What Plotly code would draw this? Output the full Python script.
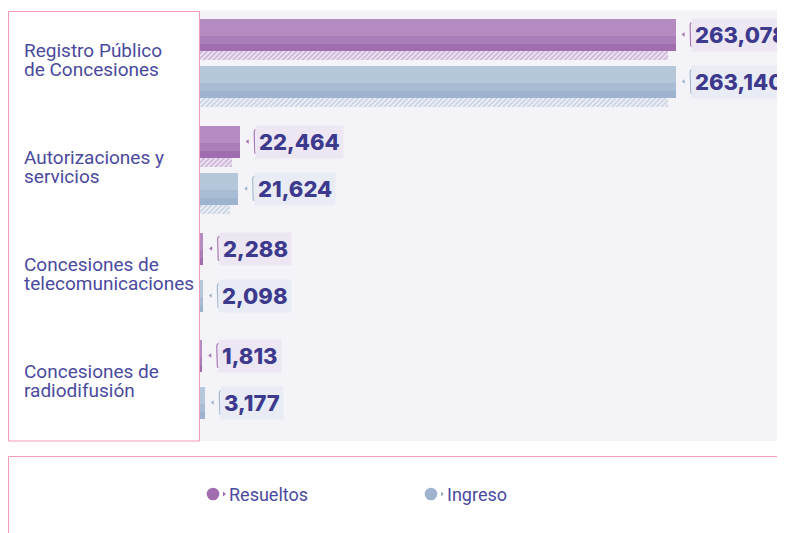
import plotly.graph_objects as go

# ---------------- data ----------------
categories = ["Registro Público<br>de Concesiones",
              "Autorizaciones y<br>servicios",
              "Concesiones de<br>telecomunicaciones",
              "Concesiones de<br>radiodifusión"]
resueltos = [263078, 22464, 2288, 1813]
ingreso = [263140, 21624, 2098, 3177]
series_names = ["Resueltos", "Ingreso"]

# ---------------- layout constants (screen pixels; page has 8px body margin) ----------------
OFF = 8
W, H = 777, 525
PL, PT, PB = 199 - OFF, 10 - OFF, 441 - OFF
PR = W
PW, PH = PR - PL, PB - PT
UPX = 552.0                # data units per pixel (x)
XMAX = PW * UPX
GROUP_PX = 107             # pixels between groups
FIRST = 58 - OFF           # pixel centre of first group


def yu(px):                # pixel offset -> y units
    return px / GROUP_PX


def xu(px):                # pixel offset -> x units
    return px * UPX


def pxx(p):                # screen pixel -> paper x
    return (p - OFF - PL) / PW


def pxy(p):                # screen pixel -> paper y
    return (PB - (p - OFF)) / PH


styles = {
    "Resueltos": dict(off=-23.5, light="#b58cc1", mid="#aa7eb9", dark="#a06daf",
                      hatch="#a877b8", box="#ece7f2", bracket="#a877b6"),
    "Ingreso": dict(off=23.5, light="#b4c7db", mid="#a8bcd3", dark="#9eb3cd",
                    hatch="#a2b8d2", box="#e9ecf5", bracket="#a5b9d1"),
}
TEXT_COLOR = "#3d3a8e"
LABEL_COLOR = "#4a4a9e"
PINK = "#f29cb4"

fig = go.Figure()
annotations = []
shapes = []

BAR_T = 32
layers = [(0, 32, "light"), (17, 15, "mid"), (25, 7, "dark")]

for name, vals in zip(series_names, [resueltos, ingreso]):
    st = styles[name]
    idx = list(range(len(vals)))
    centres = [i + yu(st["off"]) for i in idx]
    # hatched shadow
    fig.add_trace(go.Bar(
        orientation="h", y=[c + yu(BAR_T / 2 + 5.0) for c in centres],
        x=vals, base=[-xu(8)] * len(vals), width=yu(9.5),
        marker=dict(color="rgba(0,0,0,0)", line=dict(width=0),
                    pattern=dict(shape="/", fgcolor=st["hatch"], bgcolor="rgba(0,0,0,0)",
                                 size=3.5, solidity=0.6)),
        hoverinfo="skip", showlegend=False))
    # gradient bands
    for top, th, key in layers:
        fig.add_trace(go.Bar(
            orientation="h", y=[c + yu(-BAR_T / 2 + top + th / 2) for c in centres],
            x=vals, width=yu(th), name=name,
            marker=dict(color=st[key], line=dict(width=0)),
            showlegend=False, hoverinfo="x+name"))
    # little triangles
    fig.add_trace(go.Scatter(
        x=[v + xu(8) for v in vals], y=centres, mode="markers",
        marker=dict(symbol="triangle-left", size=4, color=st["dark"]),
        hoverinfo="skip", showlegend=False, cliponaxis=False))
    # brackets
    bx, by = [], []
    for v, c in zip(vals, centres):
        xb = v + xu(14.5)
        bx += [xb + xu(3), xb + xu(0.6), xb, xb, xb + xu(0.6), xb + xu(3), None]
        by += [c - yu(12), c - yu(11.5), c - yu(9.5), c + yu(9.5), c + yu(11.5), c + yu(12), None]
    fig.add_trace(go.Scatter(
        x=bx, y=by, mode="lines", line=dict(color=st["bracket"], width=1.2),
        hoverinfo="skip", showlegend=False, cliponaxis=False))
    # value boxes
    for v, c in zip(vals, centres):
        annotations.append(dict(
            x=v + xu(15.5), y=c, xref="x", yref="y", xanchor="left", yanchor="middle",
            text=f"{v:,}", showarrow=False, bgcolor=st["box"], borderpad=3,
            font=dict(family="Inter", size=22, weight=800, color=TEXT_COLOR)))

# left category box
shapes.append(dict(type="rect", xref="paper", yref="paper",
                   x0=pxx(8.5), x1=pxx(199.5), y0=pxy(441), y1=pxy(11.5),
                   fillcolor="white", line=dict(color=PINK, width=1), layer="above"))
for i, cat in enumerate(categories):
    lines = cat.split("<br>")
    n = len(lines)
    for k, ln in enumerate(lines):
        annotations.append(dict(
            x=pxx(22), y=i, xref="paper", yref="y", xanchor="left", yanchor="middle",
            text=ln, showarrow=False, yshift=-((k - (n - 1) / 2) * 19 + 1.5),
            font=dict(family="Roboto", size=19, color=LABEL_COLOR)))

# legend box
shapes.append(dict(type="rect", xref="paper", yref="paper",
                   x0=pxx(8.5), x1=pxx(830), y0=pxy(640), y1=pxy(456.5),
                   fillcolor="white", line=dict(color=PINK, width=1), layer="above"))
leg = [("Resueltos", 213, styles["Resueltos"]["dark"]),
       ("Ingreso", 431, styles["Ingreso"]["dark"])]
LY = 494
for name, cx, col in leg:
    shapes.append(dict(type="circle", xref="paper", yref="paper",
                       x0=pxx(cx - 6.3), x1=pxx(cx + 6.3), y0=pxy(LY + 6.3), y1=pxy(LY - 6.3),
                       fillcolor=col, line=dict(width=0), layer="above"))
    tx = cx + 10
    shapes.append(dict(type="path", xref="paper", yref="paper",
                       path=f"M {pxx(tx)},{pxy(LY - 2.5)} L {pxx(tx + 3)},{pxy(LY)} L {pxx(tx)},{pxy(LY + 2.5)} Z",
                       fillcolor=col, line=dict(width=0), layer="above"))
    annotations.append(dict(
        x=pxx(cx + 13.5), y=pxy(LY), xref="paper", yref="paper", xanchor="left", yanchor="middle",
        text=name, showarrow=False,
        font=dict(family="Roboto", size=18, color=LABEL_COLOR)))

fig.update_layout(
    width=W, height=H, barmode="overlay",
    margin=dict(l=PL, r=W - PR, t=PT, b=H - PB, pad=0),
    paper_bgcolor="white", plot_bgcolor="#f4f3f8",
    xaxis=dict(range=[0, XMAX], visible=False, fixedrange=True),
    yaxis=dict(range=[(PB - FIRST) / GROUP_PX, (PT - FIRST) / GROUP_PX],
               visible=False, fixedrange=True),
    annotations=annotations, shapes=shapes, showlegend=False,
    bargap=0,
)

fig.write_html("out.html")
